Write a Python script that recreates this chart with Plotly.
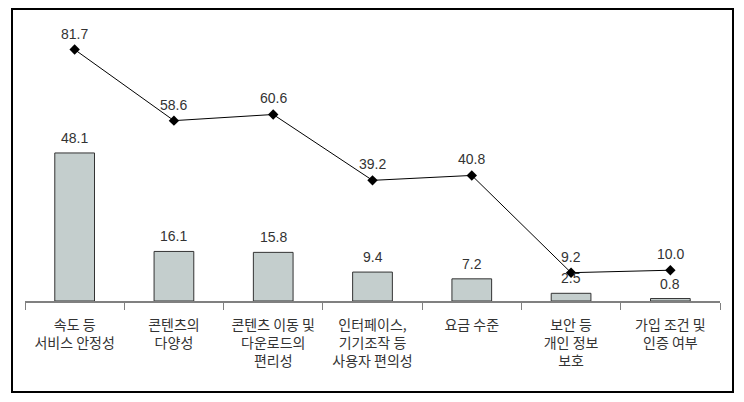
import plotly.graph_objects as go

categories = ["속도 등<br>서비스 안정성", "콘텐츠의<br>다양성", "콘텐츠 이동 및<br>다운로드의<br>편리성",
              "인터페이스,<br>기기조작 등<br>사용자 편의성", "요금 수준", "보안 등<br>개인 정보<br>보호",
              "가입 조건 및<br>인증 여부"]
cat_keys = ["c%d" % i for i in range(len(categories))]
bar_values = [48.1, 16.1, 15.8, 9.4, 7.2, 2.5, 0.8]
line_values = [81.7, 58.6, 60.6, 39.2, 40.8, 9.2, 10.0]

FONT = "Noto Sans CJK KR"
NUMFONT = "Liberation Sans"
fig = go.Figure()
fig.add_trace(go.Bar(
    x=cat_keys, y=bar_values, width=0.4,
    marker=dict(color="#c4cecd", line=dict(color="#333333", width=1)),
    hoverinfo="skip", showlegend=False,
))
fig.add_trace(go.Scatter(
    x=cat_keys, y=line_values, mode="lines+markers",
    line=dict(color="#000000", width=1),
    marker=dict(symbol="diamond", size=8, color="#000000"),
    showlegend=False,
))
for k, v in zip(cat_keys, bar_values):
    fig.add_annotation(x=k, y=v, text=f"{v:.1f}", showarrow=False, yshift=15,
                       font=dict(family=NUMFONT, size=14, color="#333333"))
for k, v in zip(cat_keys, line_values):
    fig.add_annotation(x=k, y=v, text=f"{v:.1f}", showarrow=False, yshift=16,
                       font=dict(family=NUMFONT, size=14, color="#333333"))

fig.update_layout(
    width=744, height=402,
    margin=dict(l=25, r=24, t=24, b=101),
    plot_bgcolor="white", paper_bgcolor="white",
    font=dict(family=FONT, size=13, color="#333333"),
    xaxis=dict(
        type="category", tickmode="array", tickvals=cat_keys, ticktext=categories,
        tickson="boundaries", ticks="outside", ticklen=7, tickcolor="#808080",
        showline=True, linecolor="#808080", linewidth=1.5, showgrid=False,
        tickfont=dict(family=FONT, size=14, color="#333333"),
        ticklabelstandoff=10,
        range=[-0.5, 6.5],
    ),
    yaxis=dict(range=[0, 90], visible=False, showgrid=False),
    bargap=0.6,
    shapes=[dict(type="rect", xref="paper", yref="paper",
                 x0=-0.0187, x1=1.0187, y0=-0.3285, y1=1.054,
                 line=dict(color="#000000", width=2), fillcolor="rgba(0,0,0,0)")],
)
fig.write_html("out.html")
